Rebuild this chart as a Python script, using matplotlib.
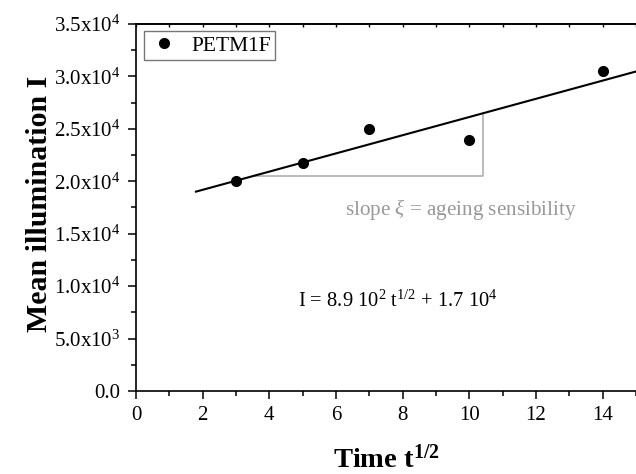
import numpy as np
import matplotlib
matplotlib.use("Agg")
import matplotlib.pyplot as plt
from matplotlib.ticker import MultipleLocator

plt.rcParams['font.family'] = ['Liberation Serif', 'DejaVu Serif']
plt.rcParams['mathtext.fontset'] = 'custom'
plt.rcParams['mathtext.rm'] = 'Liberation Serif'
plt.rcParams['mathtext.it'] = 'Liberation Serif:italic'
plt.rcParams['mathtext.bf'] = 'Liberation Serif:bold'

# data
t_sqrt = [3, 5, 7, 10, 14]
illum = [20000, 21700, 25000, 23900, 30500]
yticks = [0, 5000, 10000, 15000, 20000, 25000, 30000, 35000]
ytick_labels = ['0.0', r'5.0x10$^3$', r'1.0x10$^4$', r'1.5x10$^4$', r'2.0x10$^4$',
                r'2.5x10$^4$', r'3.0x10$^4$', r'3.5x10$^4$']
xticks = [0, 2, 4, 6, 8, 10, 12, 14]

# linear fit
slope, icpt = np.polyfit(t_sqrt, illum, 1)
fit_x = np.array([1.8, 15])
fit_y = slope * fit_x + icpt

fig = plt.figure(figsize=(6.36, 4.74), dpi=100)
ax = fig.add_axes([0.2138, 0.1751, 0.7862, 0.7743])

ax.plot(fit_x, fit_y, color='black', lw=1.5, zorder=2)
ax.plot(t_sqrt, illum, 'o', color='black', ms=7, label='PETM1F', zorder=3)

# slope triangle
y0 = 20545
x0 = (y0 - icpt) / slope
x1 = 10.42
ax.plot([x0, x1, x1], [y0, y0, slope * x1 + icpt], color='#aaaaaa', lw=1.1, zorder=1)

ax.text(6.26, 16794, r'slope $\xi$ = ageing sensibility', color='#999999', fontsize=15.2,
        ha='left', va='baseline')
ax.text(4.85, 8015, r'I = 8.9 10$^2$ t$^{1/2}$ + 1.7 10$^4$', color='black', fontsize=14.8,
        ha='left', va='baseline')

ax.set_xlim(0, 15)
ax.set_ylim(0, 35000)
ax.set_xticks(xticks)
ax.set_xticklabels([str(v) for v in xticks])
ax.xaxis.set_minor_locator(MultipleLocator(1))
ax.set_yticks(yticks)
ax.set_yticklabels(ytick_labels)
ax.yaxis.set_minor_locator(MultipleLocator(2500))

ax.tick_params(which='major', direction='out', length=6, width=1.1, labelsize=15, pad=5)
ax.tick_params(which='minor', direction='out', length=3.5, width=1.1)
ax.tick_params(top=False, right=False)
for s in ax.spines.values():
    s.set_linewidth(1.2)
ax.spines['right'].set_visible(False)

top = ax.secondary_xaxis('top')
top.set_xticks(xticks)
top.xaxis.set_minor_locator(MultipleLocator(1))
top.tick_params(which='both', direction='in', length=2.5, width=1.0, labeltop=False)
top.spines['top'].set_linewidth(1.2)

ax.set_xlabel(r'Time t$^{\mathbf{1/2}}$', fontsize=20.5, fontweight='bold')
ax.set_ylabel('Mean illumination I', fontsize=21.5, fontweight='bold')
ax.xaxis.set_label_coords(0.5, -0.147)
ax.yaxis.set_label_coords(-0.166, 0.51)

leg = ax.legend(loc='upper left', fancybox=False, edgecolor='#555555', fontsize=15.5,
                handletextpad=0.5, borderpad=0.2, bbox_to_anchor=(0.016, 0.98),
                handlelength=1.5, borderaxespad=0)
leg.get_frame().set_linewidth(1.0)

fig.savefig('out.png', dpi=100)
